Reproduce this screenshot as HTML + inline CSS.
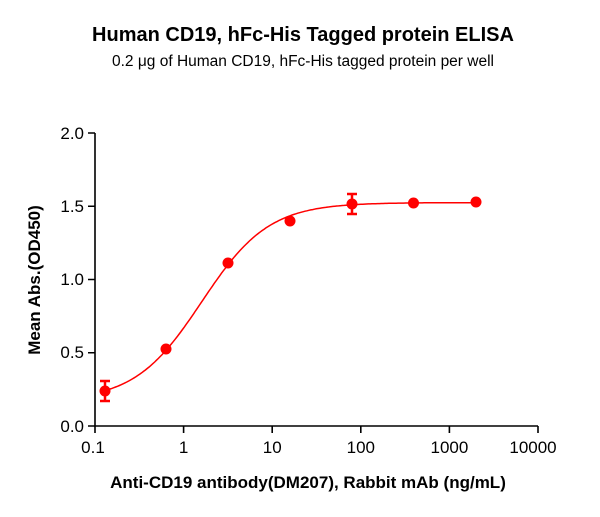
<!DOCTYPE html><html><head><style>body{margin:0;background:#fff}svg text{font-family:"Liberation Sans",Arial,sans-serif}</style></head><body>
<svg id="s" width="600" height="512" xmlns="http://www.w3.org/2000/svg">
<text x="303" y="41" font-size="20" font-weight="bold" text-anchor="middle">Human CD19, hFc-His Tagged protein ELISA</text>
<text x="303" y="66" font-size="15.5" text-anchor="middle">0.2 μg of Human CD19, hFc-His tagged protein per well</text>
<g stroke="#000" stroke-width="1.6" fill="none">
<path d="M95,133V426H538"/>
<path d="M88,133H95M88,206.25H95M88,279.5H95M88,352.75H95M88,426H95"/>
<path d="M95,426V433M183.6,426V433M272.2,426V433M360.8,426V433M449.4,426V433M538,426V433"/>
</g>
<g font-size="17" text-anchor="end">
<text x="84" y="139">2.0</text><text x="84" y="212">1.5</text><text x="84" y="285">1.0</text><text x="84" y="358">0.5</text><text x="84" y="432">0.0</text>
</g>
<g font-size="17" text-anchor="middle">
<text x="93" y="453">0.1</text><text x="183.6" y="453">1</text><text x="272.2" y="453">10</text><text x="360.8" y="453">100</text><text x="449.4" y="453">1000</text><text x="533" y="453">10000</text>
</g>
<text x="308" y="488" font-size="17" font-weight="bold" text-anchor="middle">Anti-CD19 antibody(DM207), Rabbit mAb (ng/mL)</text>
<text transform="translate(40,280) rotate(-90)" font-size="17" font-weight="bold" text-anchor="middle">Mean Abs.(OD450)</text>
<path id="c" fill="none" stroke="#f00" stroke-width="1.5"/>
<g fill="#f00" stroke="#f00" stroke-width="2.5">
<path d="M105,381V401M100,381H110M100,401H110M352,194V214M347,194H357M347,214H357" fill="none"/>
</g>
<g fill="#f00">
<circle cx="105" cy="391" r="5.5"/><circle cx="166" cy="349" r="5.5"/><circle cx="228" cy="263" r="5.5"/><circle cx="290" cy="221" r="5.5"/><circle cx="352" cy="204" r="5.5"/><circle cx="413.5" cy="203" r="5.5"/><circle cx="476" cy="202" r="5.5"/>
</g>
</svg>
<script>
var d="";for(var i=0;i<=200;i++){var lx=Math.log10(0.128)+(Math.log10(2000)-Math.log10(0.128))*i/200;var x=Math.pow(10,lx);
var v=0.17+1.355/(1+Math.pow(1.6/x,1.15));var px=95+(lx+1)*88.6,py=426-v*146.5;d+=(i?"L":"M")+px.toFixed(1)+","+py.toFixed(1);}
document.getElementById("c").setAttribute("d",d);
</script>
</body></html>
